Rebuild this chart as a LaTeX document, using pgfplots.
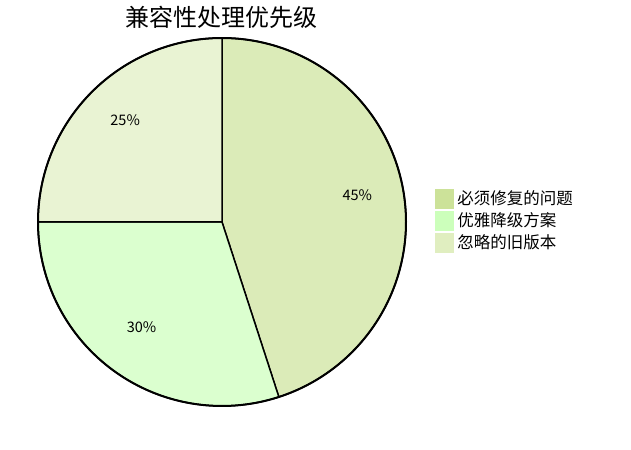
\documentclass[border=0pt]{standalone}
\usepackage{pgfplots}
\pgfplotsset{compat=1.18}
\usepackage{pgfplotstable}
\usepackage{fontspec}
\setmainfont{Noto Sans CJK SC}

\definecolor{c1}{HTML}{CCE299}
\definecolor{c2}{HTML}{CCFFBB}
\definecolor{c3}{HTML}{E0EEC0}
\colorlet{s1}{c1!70!white}
\colorlet{s2}{c2!70!white}
\colorlet{s3}{c3!70!white}

\pgfplotstableread[col sep=comma]{
label,value
必须修复的问题,45
优雅降级方案,30
忽略的旧版本,25
}\piedata

\pgfplotstablegetelem{0}{value}\of\piedata \let\va\pgfplotsretval
\pgfplotstablegetelem{1}{value}\of\piedata \let\vb\pgfplotsretval
\pgfplotstablegetelem{2}{value}\of\piedata \let\vc\pgfplotsretval

% angles, clockwise from the top
\pgfmathsetmacro\aA{90}
\pgfmathsetmacro\aB{\aA-3.6*\va}
\pgfmathsetmacro\aC{\aB-3.6*\vb}
\pgfmathsetmacro\aD{\aC-3.6*\vc}
\pgfmathsetmacro\mA{(\aA+\aB)/2}
\pgfmathsetmacro\mB{(\aB+\aC)/2}
\pgfmathsetmacro\mC{(\aC+\aD)/2}

\def\cx{222}
\def\cy{228}
\def\R{184}
\def\rl{137}

\begin{document}
\begin{tikzpicture}
\begin{axis}[
    hide axis,
    scale only axis,
    width=631bp, height=450bp,
    xmin=0, xmax=631, ymin=0, ymax=450,
    clip=false,
    legend style={
        at={(axis cs:435,261)}, anchor=north west,
        draw=none, fill=none, inner sep=0pt, outer sep=0pt,
        font=\fontsize{16.5bp}{18bp}\selectfont,
        row sep=2.5bp, column sep=4bp,
        nodes={inner sep=0pt, anchor=west},
    },
    legend cell align=left,
]
\path (rel axis cs:0,0) rectangle (rel axis cs:1,1);

\addplot[fill=s1, draw=black, line width=1.5bp, domain=\aB:\aA, samples=120, variable=\t, forget plot]
    ({\cx+\R*cos(\t)},{\cy+\R*sin(\t)}) -- (axis cs:\cx,\cy) -- cycle;
\addplot[fill=s2, draw=black, line width=1.5bp, domain=\aC:\aB, samples=120, variable=\t, forget plot]
    ({\cx+\R*cos(\t)},{\cy+\R*sin(\t)}) -- (axis cs:\cx,\cy) -- cycle;
\addplot[fill=s3, draw=black, line width=1.5bp, domain=\aD:\aC, samples=120, variable=\t, forget plot]
    ({\cx+\R*cos(\t)},{\cy+\R*sin(\t)}) -- (axis cs:\cx,\cy) -- cycle;
\addplot[draw=black, line width=2bp, domain=0:360, samples=240, variable=\t, forget plot]
    ({\cx+\R*cos(\t)},{\cy+\R*sin(\t)});

\node[anchor=base, font=\fontsize{14.5bp}{16bp}\selectfont] at (axis cs:{\cx+\rl*cos(\mA)},{\cy+\rl*sin(\mA)}) {\va\%};
\node[anchor=base, font=\fontsize{14.5bp}{16bp}\selectfont] at (axis cs:{\cx+\rl*cos(\mB)},{\cy+\rl*sin(\mB)}) {\vb\%};
\node[anchor=base, font=\fontsize{14.5bp}{16bp}\selectfont] at (axis cs:{\cx+\rl*cos(\mC)},{\cy+\rl*sin(\mC)}) {\vc\%};

\node[font=\fontsize{24bp}{26bp}\selectfont] at (axis cs:221.5,433) {兼容性处理优先级};

\addlegendimage{legend image code/.code={\fill[c1] (0bp,-9.5bp) rectangle (18bp,9.5bp);}}
\addlegendentry{必须修复的问题}
\addlegendimage{legend image code/.code={\fill[c2] (0bp,-9.5bp) rectangle (18bp,9.5bp);}}
\addlegendentry{优雅降级方案}
\addlegendimage{legend image code/.code={\fill[c3] (0bp,-9.5bp) rectangle (18bp,9.5bp);}}
\addlegendentry{忽略的旧版本}
\end{axis}
\end{tikzpicture}
\end{document}
